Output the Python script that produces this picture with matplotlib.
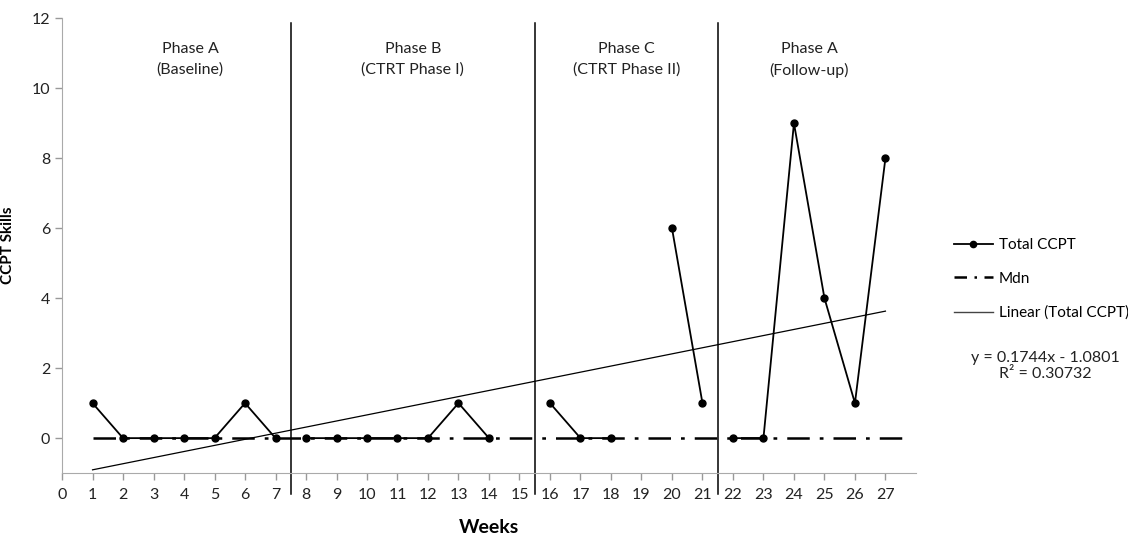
import numpy as np
import matplotlib.pyplot as plt

plt.rcParams['font.family'] = ['Lato', 'DejaVu Sans']

# weekly CCPT totals, one list per phase (nan = no session)
wk_base = [1, 2, 3, 4, 5, 6, 7]
ccpt_base = [1, 0, 0, 0, 0, 1, 0]
wk_ctrt1 = [8, 9, 10, 11, 12, 13, 14]
ccpt_ctrt1 = [0, 0, 0, 0, 0, 1, 0]
wk_ctrt2 = [16, 17, 18, 19, 20, 21]
ccpt_ctrt2 = [1, 0, 0, np.nan, 6, 1]
wk_follow = [22, 23, 24, 25, 26, 27]
ccpt_follow = [0, 0, 9, 4, 1, 8]

median_val = 0
slope, intercept = 0.1744, -1.0801
r2 = 0.30732

phase_breaks = [7.5, 15.5, 21.5]
phase_names = ['Phase A\n(Baseline)', 'Phase B\n(CTRT Phase I)',
               'Phase C\n(CTRT Phase II)', 'Phase A\n(Follow-up)']
phase_centers = [4.2, 11.5, 18.5, 24.5]

fig = plt.figure(figsize=(11.28, 5.34), dpi=100)
ax = fig.add_axes([0.055, 0.114, 0.757, 0.852])

all_weeks = wk_base + wk_ctrt1 + wk_ctrt2 + wk_follow

# median line
ax.plot([all_weeks[0], all_weeks[-1] + 0.8], [median_val, median_val],
        color='black', lw=1.8, dashes=(9, 4, 1.5, 4), zorder=2)

# linear trend
xt = np.array([all_weeks[0], all_weeks[-1]])
ax.plot(xt, slope * xt + intercept, color='black', lw=0.9, zorder=2)

for w, v in [(wk_base, ccpt_base), (wk_ctrt1, ccpt_ctrt1),
             (wk_ctrt2, ccpt_ctrt2), (wk_follow, ccpt_follow)]:
    ax.plot(w, v, color='black', lw=1.3, marker='o', ms=5, zorder=3)

for xb in phase_breaks:
    ax.axvline(xb, ymin=-0.045, ymax=0.99, color='black', lw=1.1, clip_on=False)

for xc, name in zip(phase_centers, phase_names):
    ax.text(xc, 11.32, name, ha='center', va='top', fontsize=11.5,
            color='#222222', linespacing=1.55)

ax.set_xlim(0, 28)
ax.set_ylim(-1, 12)
ax.set_yticks(range(0, 13, 2))
ax.set_xticks(range(0, 28))
ax.tick_params(axis='both', labelsize=11.5, colors='#999999', labelcolor='#222222',
               length=5, width=1)
ax.tick_params(axis='x', pad=6)
for s in ['top', 'right']:
    ax.spines[s].set_visible(False)
for s in ['left', 'bottom']:
    ax.spines[s].set_color('#aaaaaa')

ax.set_xlabel('Weeks', fontsize=14, fontweight='bold', labelpad=12)
ax.set_ylabel('CCPT Skills', fontsize=11, fontweight='bold', labelpad=12)

h1, = ax.plot([], [], color='black', lw=1.3, marker='o', ms=4.5)
h2, = ax.plot([], [], color='black', lw=1.8, dashes=(5, 3, 1, 3))
h3, = ax.plot([], [], color='#444444', lw=1.0)
fig.legend([h1, h2, h3], ['Total CCPT', 'Mdn', 'Linear (Total CCPT)'],
           loc='upper left', bbox_to_anchor=(0.842, 0.563), frameon=False,
           fontsize=11, labelspacing=1.3, handlelength=2.5, handletextpad=0.4,
           borderaxespad=0, borderpad=0.3)

fig.text(0.927, 0.315, f'y = {slope}x - {abs(intercept)}\nR² = {r2}',
         ha='center', va='center', fontsize=11.5, color='#222222')

fig.savefig('out.png', dpi=100)
